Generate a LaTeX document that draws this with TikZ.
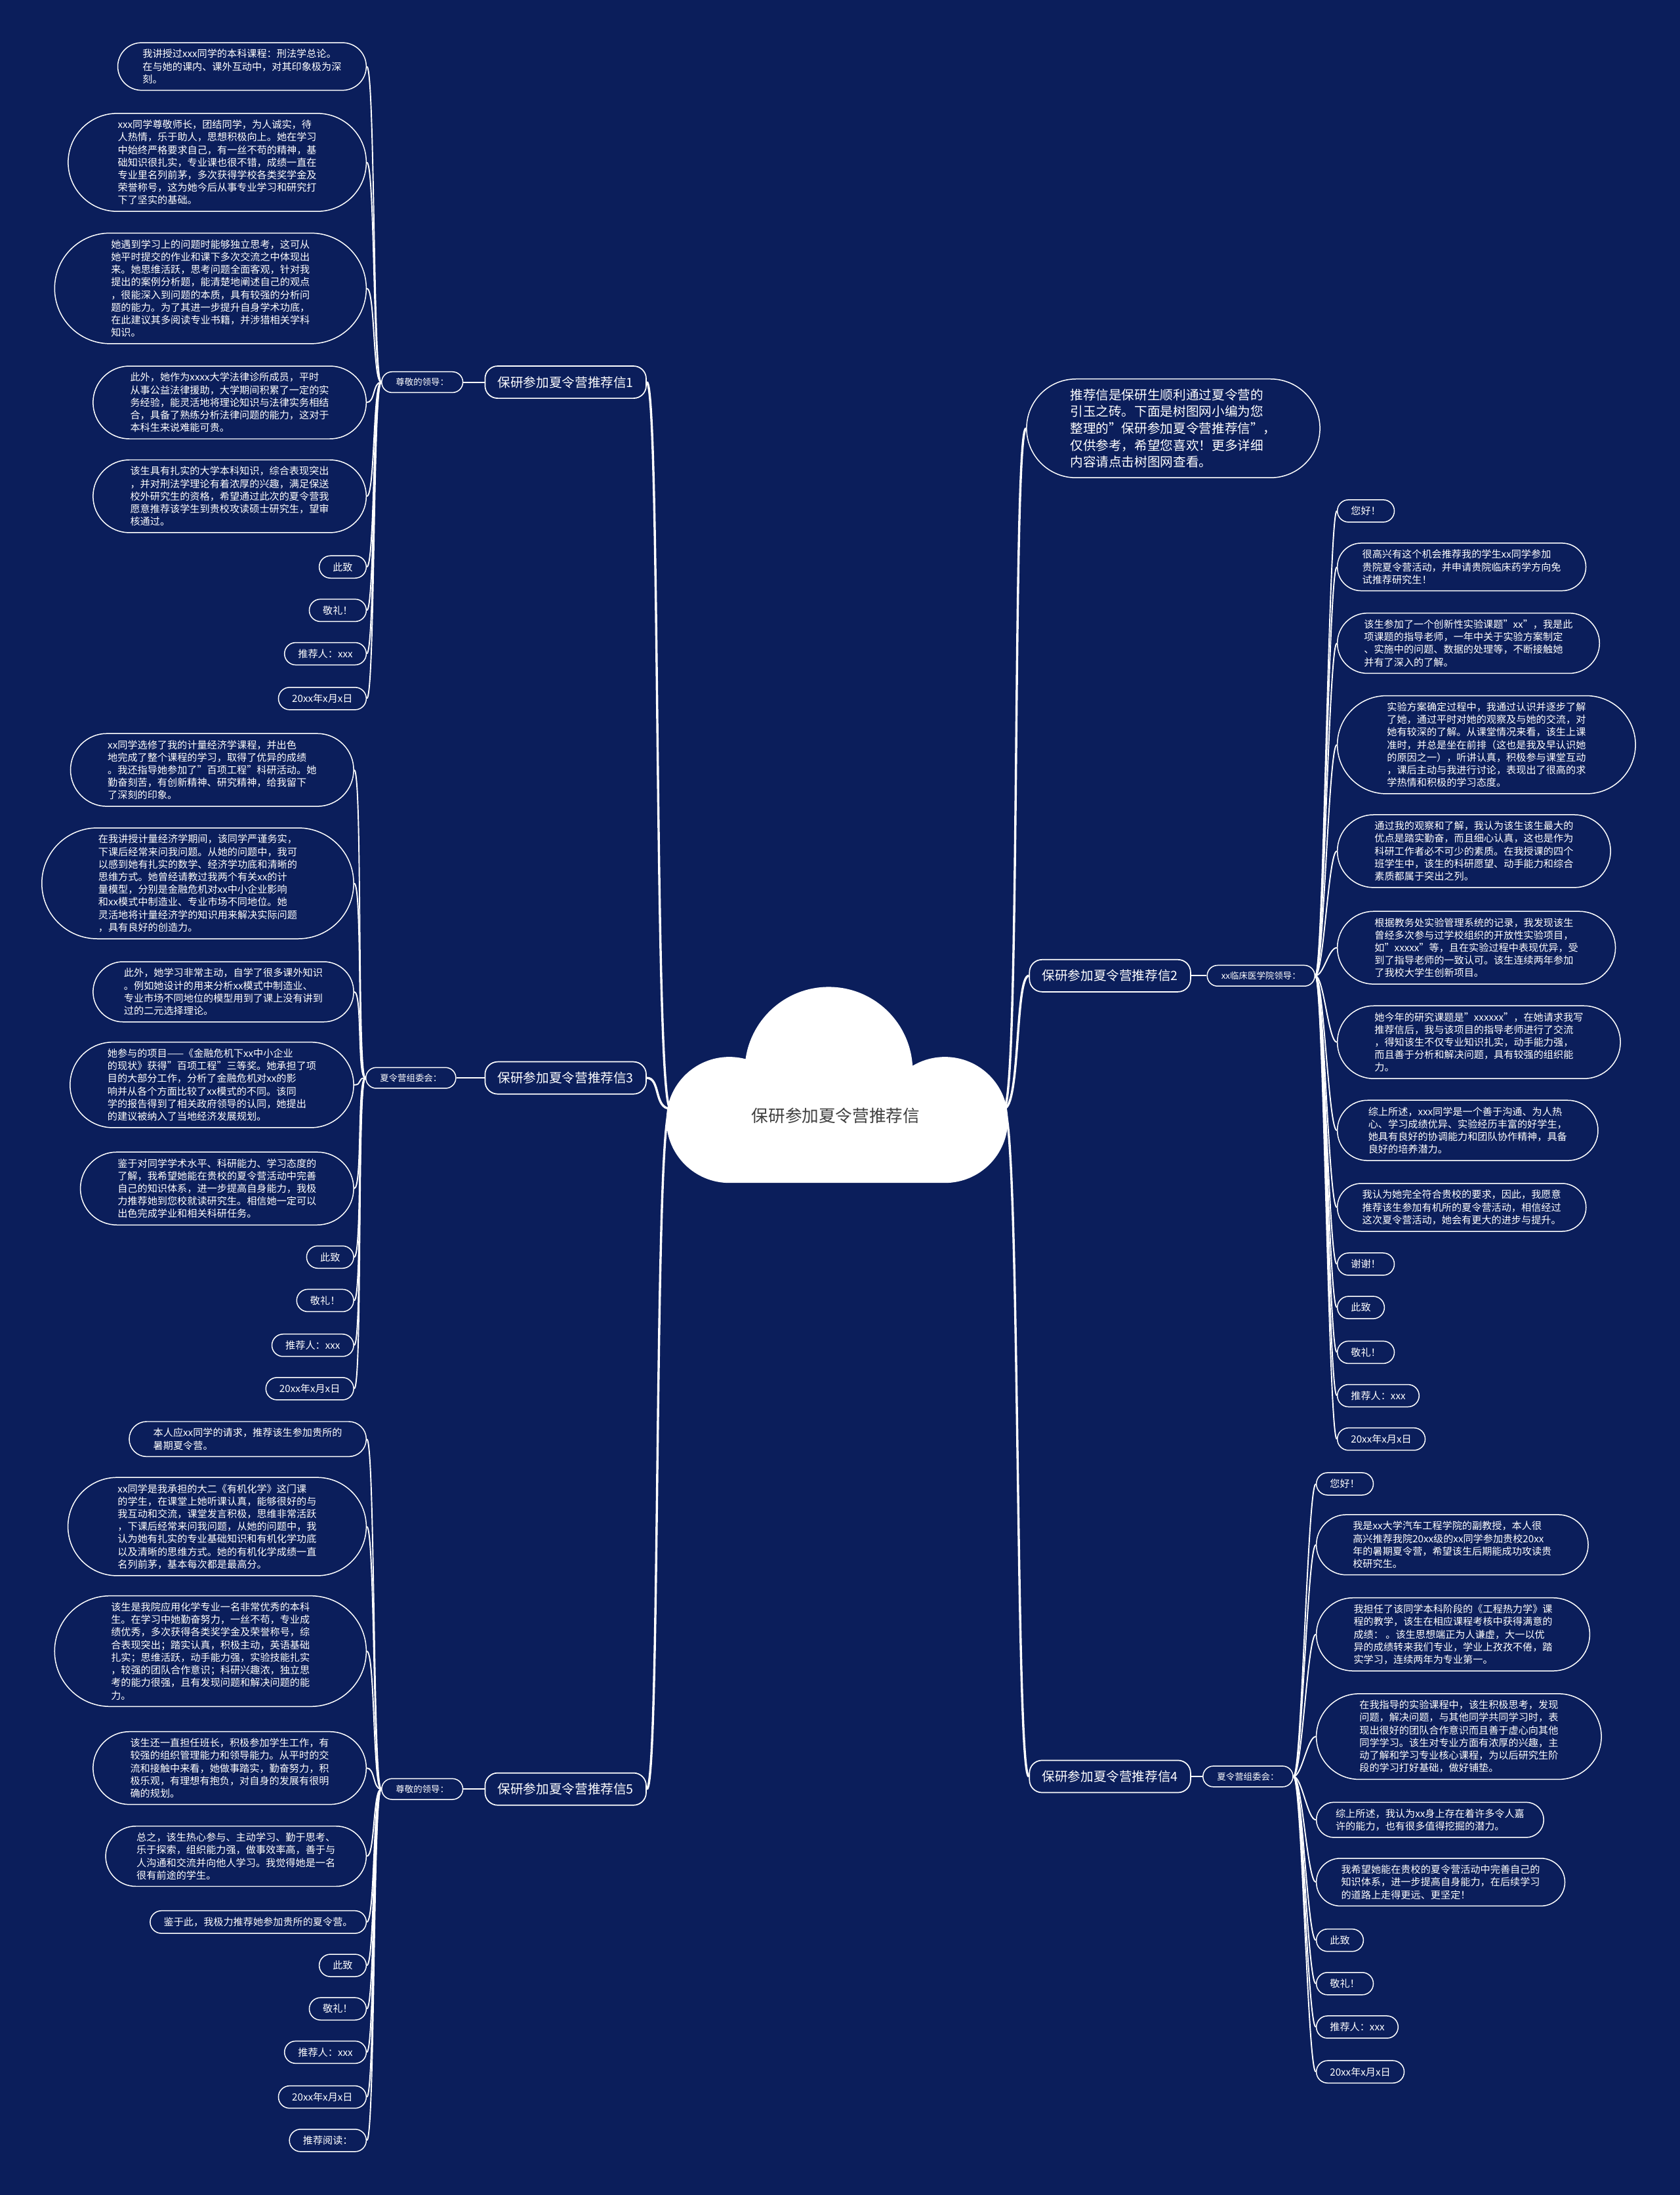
\documentclass[tikz,border=0pt]{standalone}
\usepackage{fontspec}
\setmainfont{Noto Sans CJK SC}
\usepackage{tikz}
\usetikzlibrary{shapes.misc, positioning}
\definecolor{NightBlue}{HTML}{0B1E5B}
\definecolor{CloudInk}{HTML}{3F3F3F}

\begin{document}
\begin{tikzpicture}[x=1pt, y=-1pt,
    leaf/.style={rounded rectangle, draw=white, line width=0.7pt, fill=NightBlue, text=white,
                 align=left, inner xsep=#1, inner ysep=4.7pt,
                 font=\fontsize{7.1}{9}\selectfont},
    leaf/.default=9pt,
    leafL/.style={leaf=#1, anchor=east},
    leafL/.default=9pt,
    leafR/.style={leaf=#1, anchor=west},
    leafR/.default=9pt,
    branch/.style={rectangle, rounded corners=9pt, draw=white, line width=0.8pt, fill=NightBlue,
                   text=white, minimum height=23pt, inner xsep=9pt,
                   font=\fontsize{9.2}{11}\selectfont},
    sub/.style={rounded rectangle, draw=white, line width=0.7pt, fill=NightBlue, text=white,
                inner xsep=9.5pt, inner ysep=4.5pt, font=\fontsize{6.3}{8}\selectfont},
    link/.style={draw=white, line width=0.9pt},
    trunk/.style={draw=white, line width=1.6pt}
]
    \fill[NightBlue] (0,0) rectangle (1200,1568);
    \useasboundingbox (0,0) rectangle (1200,1568);

    \fill[white] (521,800) circle (45pt) (675,800) circle (45pt) (592,765) circle (60pt)
                 (521,790) rectangle (675,845);
    \node[font=\fontsize{12}{14}\selectfont, text=CloudInk] (root) at (597,797) {保研参加夏令营推荐信};
    \coordinate (rootL) at (479,792);
    \coordinate (rootR) at (717,792);

    \node[branch, anchor=east] (b1) at (462,273) {保研参加夏令营推荐信1};
    \node[branch, anchor=east] (b3) at (462,770) {保研参加夏令营推荐信3};
    \node[branch, anchor=east] (b5) at (462,1278) {保研参加夏令营推荐信5};
    \node[branch, anchor=west] (b2) at (735,697) {保研参加夏令营推荐信2};
    \node[branch, anchor=west] (b4) at (735,1269) {保研参加夏令营推荐信4};
    \node[leaf=17pt, anchor=west, inner ysep=7pt, font=\fontsize{9.2}{12}\selectfont] (intro) at (733,306)
        {推荐信是保研生顺利通过夏令营的\\引玉之砖。下面是树图网小编为您\\整理的"保研参加夏令营推荐信"，\\仅供参考，希望您喜欢！更多详细\\内容请点击树图网查看。};

    \node[sub, anchor=east] (s1) at (331,273) {尊敬的领导：};
    \node[sub, anchor=east] (s3) at (326,770) {夏令营组委会：};
    \node[sub, anchor=east] (s5) at (331,1278) {尊敬的领导：};
    \node[sub, anchor=west] (s2) at (862,697) {xx临床医学院领导：};
    \node[sub, anchor=west] (s4) at (859,1269) {夏令营组委会：};

    \foreach \b in {b1,b3,b5}
        \draw[trunk] (rootL) .. controls +(-12,0) and +(10,0) .. (\b.east);
    \foreach \b in {intro,b2,b4}
        \draw[trunk] (rootR) .. controls +(12,0) and +(-10,0) .. (\b.west);
    \draw[link] (b1.west) -- (s1.east);
    \draw[link] (b3.west) -- (s3.east);
    \draw[link] (b5.west) -- (s5.east);
    \draw[link] (b2.east) -- (s2.west);
    \draw[link] (b4.east) -- (s4.west);

    \node[leafL=12.5pt] (l1a) at (262,47.5) {我讲授过xxx同学的本科课程：刑法学总论。\\在与她的课内、课外互动中，对其印象极为深\\刻。};
    \node[leafL=18pt] (l1b) at (262,116) {xxx同学尊敬师长，团结同学，为人诚实，待\\人热情，乐于助人，思想积极向上。她在学习\\中始终严格要求自己，有一丝不苟的精神，基\\础知识很扎实，专业课也很不错，成绩一直在\\专业里名列前茅，多次获得学校各类奖学金及\\荣誉称号，这为她今后从事专业学习和研究打\\下了坚实的基础。};
    \node[leafL=19.5pt] (l1c) at (262,206) {她遇到学习上的问题时能够独立思考，这可从\\她平时提交的作业和课下多次交流之中体现出\\来。她思维活跃，思考问题全面客观，针对我\\提出的案例分析题，能清楚地阐述自己的观点\\，很能深入到问题的本质，具有较强的分析问\\题的能力。为了其进一步提升自身学术功底，\\在此建议其多阅读专业书籍，并涉猎相关学科\\知识。};
    \node[leafL=15.5pt] (l1d) at (262,287.5) {此外，她作为xxxx大学法律诊所成员，平时\\从事公益法律援助，大学期间积累了一定的实\\务经验，能灵活地将理论知识与法律实务相结\\合，具备了熟练分析法律问题的能力，这对于\\本科生来说难能可贵。};
    \node[leafL=15.5pt] (l1e) at (262,354.5) {该生具有扎实的大学本科知识，综合表现突出\\，并对刑法学理论有着浓厚的兴趣，满足保送\\校外研究生的资格，希望通过此次的夏令营我\\愿意推荐该学生到贵校攻读硕士研究生，望审\\核通过。};
    \foreach \n in {a,b,c,d,e}
        \draw[link] (s1.west) .. controls +(-6,0) and +(6,0) .. (l1\n.east);
    \foreach \n/\y/\t in {f/405/此致, g/436/敬礼！, h/467/推荐人：xxx, i/499/20xx年x月x日} {
        \node[leafL] (l1\n) at (262,\y) {\t};
        \draw[link] (s1.west) .. controls +(-6,0) and +(6,0) .. (l1\n.east);
    }

    \node[leafL=15.5pt] (l3a) at (253,550) {xx同学选修了我的计量经济学课程，并出色\\地完成了整个课程的学习，取得了优异的成绩\\。我还指导她参加了"百项工程"科研活动。她\\勤奋刻苦，有创新精神、研究精神，给我留下\\了深刻的印象。};
    \node[leafL=19.5pt] (l3b) at (253,631) {在我讲授计量经济学期间，该同学严谨务实，\\下课后经常来问我问题。从她的问题中，我可\\以感到她有扎实的数学、经济学功底和清晰的\\思维方式。她曾经请教过我两个有关xx的计\\量模型，分别是金融危机对xx中小企业影响\\和xx模式中制造业、专业市场不同地位。她\\灵活地将计量经济学的知识用来解决实际问题\\，具有良好的创造力。};
    \node[leafL=14pt] (l3c) at (253,708.5) {此外，她学习非常主动，自学了很多课外知识\\。例如她设计的用来分析xx模式中制造业、\\专业市场不同地位的模型用到了课上没有讲到\\过的二元选择理论。};
    \node[leafL=12.5pt] (l3d) at (253,775) {她参与的项目——《金融危机下xx中小企业\\的现状》获得"百项工程"三等奖。她承担了项\\目的大部分工作，分析了金融危机对xx的影\\响并从各个方面比较了xx模式的不同。该同\\学的报告得到了相关政府领导的认同，她提出\\的建议被纳入了当地经济发展规划。};
    \node[leafL=15.5pt] (l3e) at (253,849) {鉴于对同学学术水平、科研能力、学习态度的\\了解，我希望她能在贵校的夏令营活动中完善\\自己的知识体系，进一步提高自身能力，我极\\力推荐她到您校就读研究生。相信她一定可以\\出色完成学业和相关科研任务。};
    \foreach \n in {a,b,c,d,e}
        \draw[link] (s3.west) .. controls +(-6,0) and +(6,0) .. (l3\n.east);
    \foreach \n/\y/\t in {f/898/此致, g/929/敬礼！, h/961/推荐人：xxx, i/992/20xx年x月x日} {
        \node[leafL] (l3\n) at (253,\y) {\t};
        \draw[link] (s3.west) .. controls +(-6,0) and +(6,0) .. (l3\n.east);
    }

    \node[leafL=14.5pt] (l5a) at (262,1028) {本人应xx同学的请求，推荐该生参加贵所的\\暑期夏令营。};
    \node[leafL=18pt] (l5b) at (262,1090.5) {xx同学是我承担的大二《有机化学》这门课\\的学生，在课堂上她听课认真，能够很好的与\\我互动和交流，课堂发言积极，思维非常活跃\\，下课后经常来问我问题，从她的问题中，我\\认为她有扎实的专业基础知识和有机化学功底\\以及清晰的思维方式。她的有机化学成绩一直\\名列前茅，基本每次都是最高分。};
    \node[leafL=19.5pt] (l5c) at (262,1179.5) {该生是我院应用化学专业一名非常优秀的本科\\生。在学习中她勤奋努力，一丝不苟，专业成\\绩优秀，多次获得各类奖学金及荣誉称号，综\\合表现突出；踏实认真，积极主动，英语基础\\扎实；思维活跃，动手能力强，实验技能扎实\\，较强的团队合作意识；科研兴趣浓，独立思\\考的能力很强，且有发现问题和解决问题的能\\力。};
    \node[leafL=15.5pt] (l5d) at (262,1263) {该生还一直担任班长，积极参加学生工作，有\\较强的组织管理能力和领导能力。从平时的交\\流和接触中来看，她做事踏实，勤奋努力，积\\极乐观，有理想有抱负，对自身的发展有很明\\确的规划。};
    \node[leafL=14pt] (l5e) at (262,1326) {总之，该生热心参与、主动学习、勤于思考、\\乐于探索，组织能力强，做事效率高，善于与\\人沟通和交流并向他人学习。我觉得她是一名\\很有前途的学生。};
    \node[leafL] (l5f) at (262,1373) {鉴于此，我极力推荐她参加贵所的夏令营。};
    \foreach \n in {a,b,c,d,e,f}
        \draw[link] (s5.west) .. controls +(-6,0) and +(6,0) .. (l5\n.east);
    \foreach \n/\y/\t in {g/1404/此致, h/1435/敬礼！, i/1466/推荐人：xxx, j/1498/20xx年x月x日, k/1529/推荐阅读：} {
        \node[leafL] (l5\n) at (262,\y) {\t};
        \draw[link] (s5.west) .. controls +(-6,0) and +(6,0) .. (l5\n.east);
    }

    \node[leafR] (r2a) at (955,365) {您好！};
    \node[leafR=12.5pt] (r2b) at (955,405) {很高兴有这个机会推荐我的学生xx同学参加\\贵院夏令营活动，并申请贵院临床药学方向免\\试推荐研究生！};
    \node[leafR=11pt] (r2c) at (955,459.5) {该生参加了一个创新性实验课题"xx"，我是此\\项课题的指导老师，一年中关于实验方案制定\\、实施中的问题、数据的处理等，不断接触她\\并有了深入的了解。};
    \node[leafR=18pt] (r2d) at (955,532) {实验方案确定过程中，我通过认识并逐步了解\\了她，通过平时对她的观察及与她的交流，对\\她有较深的了解。从课堂情况来看，该生上课\\准时，并总是坐在前排（这也是我及早认识她\\的原因之一），听讲认真，积极参与课堂互动\\，课后主动与我进行讨论，表现出了很高的求\\学热情和积极的学习态度。};
    \node[leafR=15.5pt] (r2e) at (955,608) {通过我的观察和了解，我认为该生该生最大的\\优点是踏实勤奋，而且细心认真，这也是作为\\科研工作者必不可少的素质。在我授课的四个\\班学生中，该生的科研愿望、动手能力和综合\\素质都属于突出之列。};
    \node[leafR=15.5pt] (r2f) at (955,677) {根据教务处实验管理系统的记录，我发现该生\\曾经多次参与过学校组织的开放性实验项目，\\如"xxxxx"等，且在实验过程中表现优异，受\\到了指导老师的一致认可。该生连续两年参加\\了我校大学生创新项目。};
    \node[leafR=15.5pt] (r2g) at (955,744.5) {她今年的研究课题是"xxxxxx"，在她请求我写\\推荐信后，我与该项目的指导老师进行了交流\\，得知该生不仅专业知识扎实，动手能力强，\\而且善于分析和解决问题，具有较强的组织能\\力。};
    \node[leafR=14pt] (r2h) at (955,807.5) {综上所述，xxx同学是一个善于沟通、为人热\\心、学习成绩优异、实验经历丰富的好学生，\\她具有良好的协调能力和团队协作精神，具备\\良好的培养潜力。};
    \node[leafR=12.5pt] (r2i) at (955,862.5) {我认为她完全符合贵校的要求，因此，我愿意\\推荐该生参加有机所的夏令营活动，相信经过\\这次夏令营活动，她会有更大的进步与提升。};
    \foreach \n in {a,b,c,d,e,f,g,h,i}
        \draw[link] (s2.east) .. controls +(6,0) and +(-6,0) .. (r2\n.west);
    \foreach \n/\y/\t in {j/903/谢谢！, k/934/此致, l/966/敬礼！, m/997/推荐人：xxx, n/1028/20xx年x月x日} {
        \node[leafR] (r2\n) at (955,\y) {\t};
        \draw[link] (s2.east) .. controls +(6,0) and +(-6,0) .. (r2\n.west);
    }

    \node[leafR] (r4a) at (940,1060) {您好！};
    \node[leafR=18pt] (r4b) at (940,1103.5) {我是xx大学汽车工程学院的副教授，本人很\\高兴推荐我院20xx级的xx同学参加贵校20xx\\年的暑期夏令营，希望该生后期能成功攻读贵\\校研究生。};
    \node[leafR=15.5pt] (r4c) at (940,1167.5) {我担任了该同学本科阶段的《工程热力学》课\\程的教学，该生在相应课程考核中获得满意的\\成绩：\ 。该生思想端正为人谦虚，大一以优\\异的成绩转来我们专业，学业上孜孜不倦，踏\\实学习，连续两年为专业第一。};
    \node[leafR=16.5pt] (r4d) at (940,1240.5) {在我指导的实验课程中，该生积极思考，发现\\问题，解决问题，与其他同学共同学习时，表\\现出很好的团队合作意识而且善于虚心向其他\\同学学习。该生对专业方面有浓厚的兴趣，主\\动了解和学习专业核心课程，为以后研究生阶\\段的学习打好基础，做好铺垫。};
    \node[leafR=11pt] (r4e) at (940,1300) {综上所述，我认为xx身上存在着许多令人嘉\\许的能力，也有很多值得挖掘的潜力。};
    \node[leafR=12.5pt] (r4f) at (940,1344.5) {我希望她能在贵校的夏令营活动中完善自己的\\知识体系，进一步提高自身能力，在后续学习\\的道路上走得更远、更坚定！};
    \foreach \n in {a,b,c,d,e,f}
        \draw[link] (s4.east) .. controls +(6,0) and +(-6,0) .. (r4\n.west);
    \foreach \n/\y/\t in {g/1386/此致, h/1417/敬礼！, i/1448/推荐人：xxx, j/1480/20xx年x月x日} {
        \node[leafR] (r4\n) at (940,\y) {\t};
        \draw[link] (s4.east) .. controls +(6,0) and +(-6,0) .. (r4\n.west);
    }
\end{tikzpicture}
\end{document}
